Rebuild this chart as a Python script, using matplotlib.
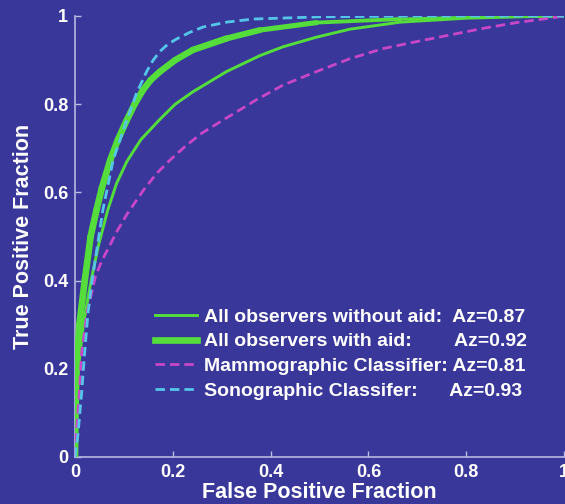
import matplotlib
matplotlib.use("Agg")
import matplotlib.pyplot as plt
import numpy as np
from matplotlib.collections import LineCollection

plt.rcParams['font.family'] = ['Liberation Sans', 'DejaVu Sans']
plt.rcParams['font.weight'] = 'bold'

# ROC curves (false positive fraction, true positive fraction)
without_aid_fpf = [0, 0.003, 0.007, 0.017, 0.033, 0.048, 0.067, 0.085, 0.106, 0.135,
                   0.174, 0.205, 0.241, 0.310, 0.378, 0.425, 0.494, 0.562, 0.665,
                   0.80, 0.90, 1.0]
without_aid_tpf = [0, 0.10, 0.20, 0.30, 0.40, 0.48, 0.56, 0.62, 0.67, 0.72,
                   0.766, 0.80, 0.828, 0.874, 0.910, 0.930, 0.952, 0.970, 0.986,
                   0.995, 0.998, 1.0]

with_aid_fpf = [0, 0.001, 0.003, 0.009, 0.020, 0.032, 0.044, 0.055, 0.072, 0.088,
                0.106, 0.122, 0.139, 0.155, 0.174, 0.205, 0.241, 0.310, 0.378,
                0.494, 0.665, 0.80, 1.0]
with_aid_tpf = [0, 0.10, 0.20, 0.30, 0.40, 0.50, 0.56, 0.61, 0.673, 0.72,
                0.764, 0.80, 0.832, 0.855, 0.874, 0.90, 0.923, 0.949, 0.968,
                0.985, 0.993, 0.997, 1.0]

mammo_fpf = [0, 0.004, 0.008, 0.014, 0.025, 0.042, 0.055, 0.069, 0.085, 0.106, 0.140,
             0.167, 0.194, 0.225, 0.259, 0.297, 0.337, 0.371, 0.425, 0.494, 0.562,
             0.630, 0.699, 0.767, 0.835, 0.903, 0.971, 1.0]
mammo_tpf = [0, 0.07, 0.13, 0.24, 0.33, 0.41, 0.445, 0.475, 0.51, 0.55, 0.605,
             0.643, 0.673, 0.704, 0.734, 0.760, 0.787, 0.810, 0.843, 0.874, 0.903,
             0.926, 0.942, 0.957, 0.972, 0.985, 0.995, 1.0]

sono_fpf = [0, 0.006, 0.014, 0.020, 0.027, 0.035, 0.046, 0.057, 0.078, 0.106, 0.126,
            0.147, 0.160, 0.174, 0.190, 0.208, 0.235, 0.262, 0.310, 0.364, 0.50,
            0.70, 1.0]
sono_tpf = [0, 0.05, 0.15, 0.24, 0.33, 0.40, 0.48, 0.56, 0.673, 0.764, 0.825,
            0.875, 0.900, 0.920, 0.936, 0.948, 0.963, 0.975, 0.986, 0.993, 0.998,
            1.0, 1.0]

labels = ["All observers without aid:  Az=0.87",
          "All observers with aid:        Az=0.92",
          "Mammographic Classifier: Az=0.81",
          "Sonographic Classifer:      Az=0.93"]

ticks = [0, 0.2, 0.4, 0.6, 0.8, 1]
tick_labels = ["0", "0.2", "0.4", "0.6", "0.8", "1"]

BG = '#39389a'
AXC = '#b9b8e2'
GREEN = '#55dd3c'
CYAN = '#55c6ea'
MAGENTA = '#c846c8'

fig = plt.figure(figsize=(5.65, 5.04), dpi=100, facecolor=BG)
ax = fig.add_axes([0.1327, 0.0933, 0.8655, 0.875], facecolor=BG)

# thin curve: observers without aid
ax.plot(without_aid_fpf, without_aid_tpf, color=GREEN, lw=2.1, zorder=3,
        label=labels[0])

# thick curve with aid, tapering toward the upper right
pts = np.column_stack([with_aid_fpf, with_aid_tpf])
segs = np.stack([pts[:-1], pts[1:]], axis=1)
mid_x = (pts[:-1, 0] + pts[1:, 0]) / 2
widths = np.interp(mid_x, [0.0, 0.30, 0.68, 1.0], [4.8, 4.6, 2.1, 2.1])
lc = LineCollection(segs, colors=GREEN, linewidths=widths, capstyle='round',
                    joinstyle='round', zorder=4)
ax.add_collection(lc)
ax.plot([], [], color=GREEN, lw=4.8, label=labels[1])

ax.plot(mammo_fpf, mammo_tpf, color=MAGENTA, lw=2.0, dashes=(3.4, 1.8),
        zorder=5, label=labels[2])
ax.plot(sono_fpf, sono_tpf, color=CYAN, lw=2.0, dashes=(3.4, 1.8),
        zorder=6, label=labels[3])

ax.set_xlim(0, 1)
ax.set_ylim(0, 1)
ax.set_xticks(ticks)
ax.set_xticklabels(tick_labels)
ax.set_yticks(ticks)
ax.set_yticklabels(tick_labels)
for s in ['top', 'right']:
    ax.spines[s].set_visible(False)
for s in ['left', 'bottom']:
    ax.spines[s].set_color(AXC)
    ax.spines[s].set_linewidth(1.2)
ax.tick_params(direction='in', length=4, width=1, color=AXC, labelcolor='white',
               labelsize=13, pad=5)
for t in ax.get_xticklabels() + ax.get_yticklabels():
    t.set_fontweight('bold')

ax.set_xlabel("False Positive Fraction", color='white', fontsize=15.5,
              fontweight='bold', labelpad=1)
ax.set_ylabel("True Positive Fraction", color='white', fontsize=15.5,
              fontweight='bold', labelpad=6)

leg = ax.legend(loc='upper left', bbox_to_anchor=(0.163, 0.338), frameon=False,
                fontsize=14, handlelength=2.2, handletextpad=0.36,
                labelspacing=0.37, borderpad=0, borderaxespad=0)
for t in leg.get_texts():
    t.set_color('white')
    t.set_fontweight('bold')

fig.savefig("out.png", dpi=100, facecolor=BG)
